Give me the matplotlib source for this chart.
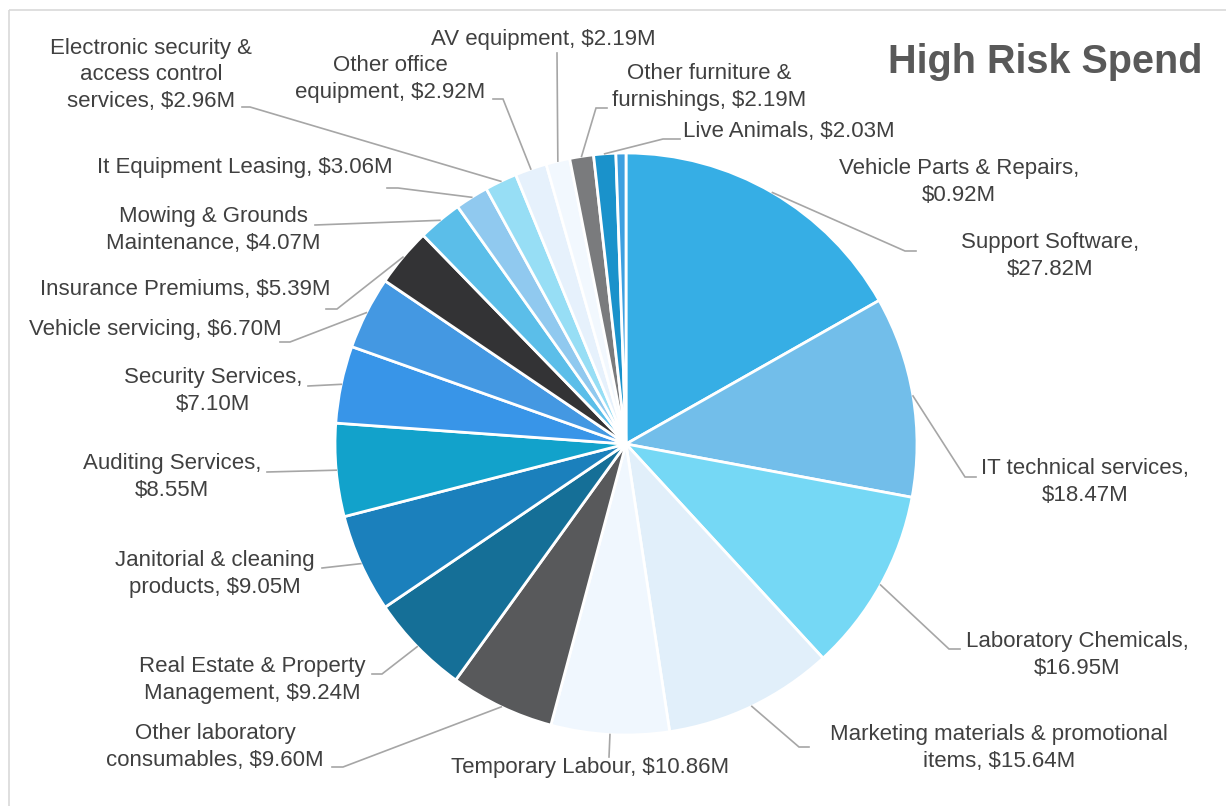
import numpy as np
import matplotlib
matplotlib.use('Agg')
import matplotlib.pyplot as plt
from matplotlib.patches import Rectangle

plt.rcParams['font.family'] = ['Liberation Sans', 'DejaVu Sans']

# spend per category, $M, in clockwise order from 12 o'clock
categories = ['Support Software', 'IT technical services', 'Laboratory Chemicals',
              'Marketing materials & promotional items', 'Temporary Labour',
              'Other laboratory consumables', 'Real Estate & Property Management',
              'Janitorial & cleaning products', 'Auditing Services', 'Security Services',
              'Vehicle servicing', 'Insurance Premiums', 'Mowing & Grounds Maintenance',
              'It Equipment Leasing', 'Electronic security & access control services',
              'Other office equipment', 'AV equipment', 'Other furniture & furnishings',
              'Live Animals', 'Vehicle Parts & Repairs']
spend = [27.82, 18.47, 16.95, 15.64, 10.86, 9.60, 9.24, 9.05, 8.55, 7.10,
         6.70, 5.39, 4.07, 3.06, 2.96, 2.92, 2.19, 2.19, 2.03, 0.92]

# label text as wrapped in the chart
label_text = ['Support Software,\n$27.82M',
              'IT technical services,\n$18.47M',
              'Laboratory Chemicals,\n$16.95M',
              'Marketing materials & promotional\nitems, $15.64M',
              'Temporary Labour, $10.86M',
              'Other laboratory\nconsumables, $9.60M',
              'Real Estate & Property\nManagement, $9.24M',
              'Janitorial & cleaning\nproducts, $9.05M',
              'Auditing Services,\n$8.55M',
              'Security Services,\n$7.10M',
              'Vehicle servicing, $6.70M',
              'Insurance Premiums, $5.39M',
              'Mowing & Grounds\nMaintenance, $4.07M',
              'It Equipment Leasing, $3.06M',
              'Electronic security &\naccess control\nservices, $2.96M',
              'Other office\nequipment, $2.92M',
              'AV equipment, $2.19M',
              'Other furniture &\nfurnishings, $2.19M',
              'Live Animals, $2.03M',
              'Vehicle Parts & Repairs,\n$0.92M']

colors = ['#36AEE5', '#72BEEA', '#75D8F5', '#E1EFFA', '#F0F7FE',
          '#58595B', '#156F97', '#1B80BC', '#12A2CB', '#3895E8',
          '#4498E2', '#333335', '#5BBEE9', '#90C9EF', '#97DEF5',
          '#E6F1FC', '#F2F8FE', '#7A7B7D', '#1A92CB', '#3DA0E0']

# label placement in pixels: text centre, ha, leader knee, leader end
label_pos = [(1050, 256, 'center', (905, 251), (916, 251)),
             (1085, 482, 'center', (965, 477), (976, 477)),
             (1077, 655, 'center', (949, 649), (960, 649)),
             (999, 748, 'center', (799, 747), (809, 747)),
             (590, 768, 'center', (609, 757), (609, 757)),
             (215, 747, 'center', (343, 767), (332, 767)),
             (252, 680, 'center', (382, 674), (372, 674)),
             (215, 574, 'center', (322, 568), (322, 568)),
             (172, 477, 'center', (267, 472), (267, 472)),
             (213, 391, 'center', (308, 386), (308, 386)),
             (155, 330, 'center', (290, 342), (280, 342)),
             (185, 290, 'center', (337, 309), (326, 309)),
             (213, 230, 'center', (315, 225), (315, 225)),
             (245, 167, 'center', (398, 188), (387, 188)),
             (151, 75, 'center', (250, 107), (242, 107)),
             (390, 79, 'center', (503, 99), (493, 99)),
             (543, 40, 'center', (557, 53), (557, 53)),
             (709, 87, 'center', (596, 108), (607, 108)),
             (683, 132, 'left', (663, 139), (680, 139)),
             (959, 182, 'center', None, None)]

fig = plt.figure(figsize=(12.26, 8.06), dpi=100)
ax = fig.add_axes([0, 0, 1, 1])

cx, cy, rad = 626, 444, 291
wedges, _ = ax.pie(spend, colors=colors, center=(cx, cy), radius=rad,
                   startangle=-90, counterclock=True,
                   wedgeprops=dict(edgecolor='white', linewidth=2))

ax.set_xlim(0, 1226)
ax.set_ylim(806, 0)
ax.set_aspect('equal')
ax.axis('off')

for w, txt, (tx, ty, ha, knee, end) in zip(wedges, label_text, label_pos):
    ax.text(tx, ty, txt, ha=ha, va='center', multialignment='center',
            fontsize=16, color='#404040', linespacing=1.35)
    if knee is None:
        continue
    mid = np.deg2rad((w.theta1 + w.theta2) / 2)
    sx = w.center[0] + w.r * np.cos(mid)
    sy = w.center[1] + w.r * np.sin(mid)
    ax.plot([sx, knee[0], end[0]], [sy, knee[1], end[1]], color='#A6A6A6', lw=1.2,
            solid_joinstyle='miter')

ax.text(1203, 62, 'High Risk Spend', ha='right', va='center', fontsize=28.5,
        fontweight='bold', color='#595959')

ax.add_patch(Rectangle((9, 10), 1300, 900, fill=False, edgecolor='#D9D9D9', lw=1.2))

fig.savefig('out.png', dpi=100)
